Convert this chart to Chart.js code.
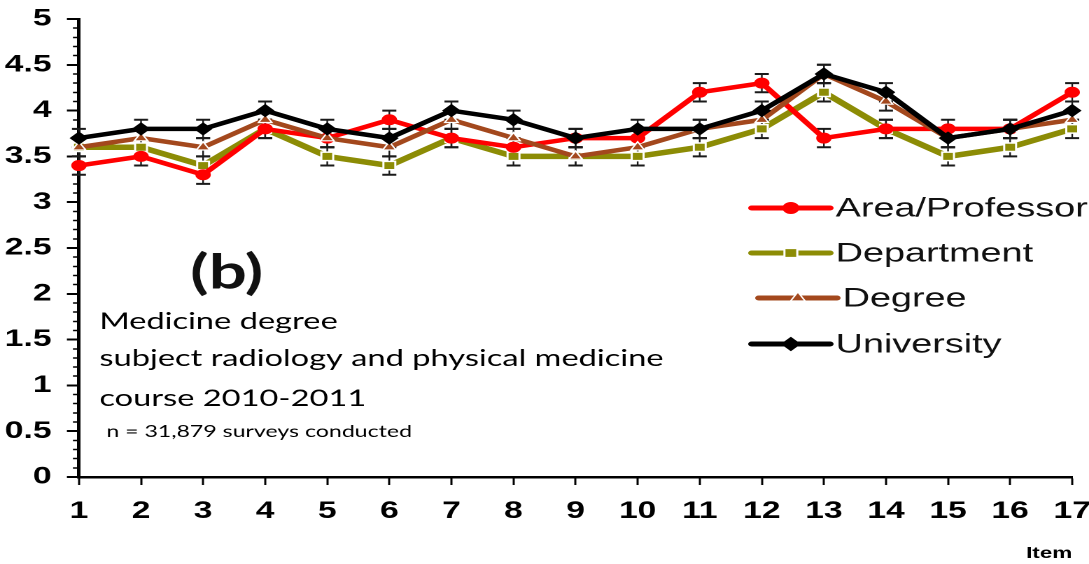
<!DOCTYPE html>
<html>
<head>
<meta charset="utf-8">
<script src="https://cdn.jsdelivr.net/npm/chart.js@4.4.1/dist/chart.umd.min.js"></script>
<style>
html, body { margin: 0; padding: 0; background: #ffffff; overflow: hidden; }
#wrap { position: absolute; left: 0; top: 0; width: 778px; height: 564px; transform: scaleX(1.39974); transform-origin: 0 0; }
</style>
</head>
<body>
<div id="wrap"><canvas id="c"></canvas></div>
<script>
// ---- data ----
const items = ['1','2','3','4','5','6','7','8','9','10','11','12','13','14','15','16','17'];
const areaProfessor = [3.4, 3.5, 3.3, 3.8, 3.7, 3.9, 3.7, 3.6, 3.7, 3.7, 4.2, 4.3, 3.7, 3.8, 3.8, 3.8, 4.2];
const department    = [3.6, 3.6, 3.4, 3.8, 3.5, 3.4, 3.7, 3.5, 3.5, 3.5, 3.6, 3.8, 4.2, 3.8, 3.5, 3.6, 3.8];
const degree        = [3.6, 3.7, 3.6, 3.9, 3.7, 3.6, 3.9, 3.7, 3.5, 3.6, 3.8, 3.9, 4.4, 4.1, 3.7, 3.8, 3.9];
const university    = [3.7, 3.8, 3.8, 4.0, 3.8, 3.7, 4.0, 3.9, 3.7, 3.8, 3.8, 4.0, 4.4, 4.2, 3.7, 3.8, 4.0];
const errorMargin   = [0.1, 0.1, 0.1, 0.1, 0.1, 0.1, 0.1, 0.1, 0.1, 0.1, 0.1, 0.1, 0.1, 0.1, 0.1, 0.1, 0.1];
const seriesNames   = ['Area/Professor', 'Department', 'Degree', 'University'];
const yMin = 0, yMax = 5, yMajorStep = 0.5, yMinorStep = 0.1;
const annotationLines = ['Medicine degree', 'subject radiology and physical medicine', 'course 2010-2011'];
const annotationNote = 'n = 31,879 surveys conducted';
const panelLabel = '(b)';
const xTitle = 'Item';

// ---- styles ----
const COLORS = { area: '#ff0000', dept: '#8c8c05', degree: '#a3481d', univ: '#000000' };
const TICK_FONT = { family: "'Liberation Sans', Arial, sans-serif", size: 24, weight: 'bold' };

const errorBarsPlugin = {
  id: 'errorBars',
  beforeDatasetsDraw(chart) {
    const ctx = chart.ctx;
    const x = chart.scales.x, y = chart.scales.y;
    ctx.save();
    ctx.strokeStyle = '#1a1a1a';
    chart.data.datasets.forEach(ds => {
      ds.data.forEach((v, i) => {
        const px = x.getPixelForValue(i);
        const e = errorMargin[i];
        const pt = y.getPixelForValue(v + e);
        const pb = y.getPixelForValue(v - e);
        ctx.lineWidth = 1.2;
        ctx.beginPath(); ctx.moveTo(px, pt); ctx.lineTo(px, pb); ctx.stroke();
        ctx.lineWidth = 2;
        ctx.beginPath();
        ctx.moveTo(px - 5, pt); ctx.lineTo(px + 5, pt);
        ctx.moveTo(px - 5, pb); ctx.lineTo(px + 5, pb);
        ctx.stroke();
      });
    });
    ctx.restore();
  }
};

function drawMarker(ctx, style, radius, x, y, fill, border, bw) {
  ctx.fillStyle = fill;
  ctx.strokeStyle = border;
  ctx.lineWidth = bw;
  if (Chart.helpers && Chart.helpers.drawPoint) {
    Chart.helpers.drawPoint(ctx, { pointStyle: style, radius: radius, rotation: 0, borderWidth: bw }, x, y);
  } else {
    ctx.beginPath(); ctx.arc(x, y, radius, 0, Math.PI * 2); ctx.fill(); if (bw) ctx.stroke();
  }
}

const overlayPlugin = {
  id: 'overlay',
  afterDraw(chart) {
    const ctx = chart.ctx;
    ctx.save();
    // legend
    const rows = [208, 253, 298, 344];
    const shift = [0, 0, 5, 0];
    chart.data.datasets.forEach((ds, k) => {
      const cy = rows[k];
      const x0 = 537 + shift[k], x1 = 593 + shift[k];
      ctx.strokeStyle = ds.borderColor;
      ctx.lineWidth = 5;
      ctx.lineCap = 'round';
      ctx.beginPath(); ctx.moveTo(x0, cy); ctx.lineTo(x1, cy); ctx.stroke();
      drawMarker(ctx, ds.pointStyle, ds.pointRadius + 0.5, (x0 + x1) / 2, cy, ds.pointBackgroundColor, ds.pointBorderColor, ds.pointBorderWidth);
      ctx.fillStyle = '#111111';
      ctx.font = "27px 'Liberation Sans', Arial, sans-serif";
      ctx.textAlign = 'left';
      ctx.textBaseline = 'middle';
      ctx.fillText(ds.label, x1 + 4, cy + 1);
    });
    // panel label
    ctx.fillStyle = '#111111';
    ctx.font = "bold 48px Lato, 'Open Sans', sans-serif";
    ctx.textAlign = 'center';
    ctx.textBaseline = 'middle';
    ctx.fillText(panelLabel, 162, 273);
    // annotation
    ctx.fillStyle = '#000000';
    ctx.textAlign = 'left';
    ctx.textBaseline = 'alphabetic';
    ctx.font = "23.3px Lato, 'Open Sans', sans-serif";
    const bases = [329, 366, 406];
    annotationLines.forEach((t, i) => ctx.fillText(t, 71, bases[i]));
    ctx.font = "16.5px Lato, 'Open Sans', sans-serif";
    ctx.fillText(annotationNote, 76, 437);
    ctx.restore();
  }
};

function noPad(s) { s.paddingTop = 0; s.paddingBottom = 0; s.paddingLeft = 0; s.paddingRight = 0; }

new Chart(document.getElementById('c'), {
  type: 'line',
  data: {
    labels: items,
    datasets: [
      { label: seriesNames[0], data: areaProfessor, borderColor: COLORS.area, borderWidth: 4.5,
        pointStyle: 'circle', pointRadius: 5, pointBackgroundColor: COLORS.area, pointBorderColor: COLORS.area, pointBorderWidth: 1, order: 2 },
      { label: seriesNames[1], data: department, borderColor: COLORS.dept, borderWidth: 5.5,
        pointStyle: 'rect', pointRadius: 6, pointBackgroundColor: COLORS.dept, pointBorderColor: '#ffffff', pointBorderWidth: 1.5, order: 3 },
      { label: seriesNames[2], data: degree, borderColor: COLORS.degree, borderWidth: 4.5,
        pointStyle: 'triangle', pointRadius: 5.5, pointBackgroundColor: COLORS.degree, pointBorderColor: '#ffffff', pointBorderWidth: 1.2, order: 1 },
      { label: seriesNames[3], data: university, borderColor: COLORS.univ, borderWidth: 4.5,
        pointStyle: 'rectRot', pointRadius: 6, pointBackgroundColor: COLORS.univ, pointBorderColor: COLORS.univ, pointBorderWidth: 1, order: 0 }
    ]
  },
  options: {
    responsive: true,
    maintainAspectRatio: false,
    devicePixelRatio: 2,
    animation: false,
    events: [],
    layout: { padding: { top: 19, right: 12, bottom: 0, left: 0 } },
    plugins: { legend: { display: false }, tooltip: { enabled: false } },
    elements: { line: { tension: 0 } },
    scales: {
      x: {
        type: 'category',
        offset: false,
        grid: { display: true, drawOnChartArea: false, drawTicks: true, tickLength: 8, tickWidth: 1.5, tickColor: '#000' },
        border: { display: true, color: '#000', width: 2.5 },
        ticks: { color: '#000', font: TICK_FONT, padding: 12, maxRotation: 0, autoSkip: false },
        title: { display: true, text: xTitle, align: 'end', color: '#000',
                 font: { family: "'Liberation Sans', Arial, sans-serif", size: 16, weight: 'bold' }, padding: { top: 0, bottom: 1 } },
        afterFit(s) { s.height = 87; noPad(s); }
      },
      y: {
        type: 'linear', position: 'left', weight: 10,
        min: yMin, max: yMax,
        grid: { display: true, drawOnChartArea: false, drawTicks: true, tickLength: 8.6, tickWidth: 2, tickColor: '#000' },
        border: { display: true, color: '#000', width: 2.5 },
        ticks: { stepSize: yMajorStep, color: '#000', font: TICK_FONT, padding: 11, autoSkip: false,
                 callback: v => String(Math.round(v * 10) / 10) },
        afterFit(s) { s.width = 56.4; noPad(s); }
      },
      yMinor: {
        type: 'linear', position: 'left', weight: 0,
        min: yMin, max: yMax,
        grid: { display: true, drawOnChartArea: false, drawTicks: true, tickLength: 4.3, tickWidth: 1.5, tickColor: '#000' },
        border: { display: false },
        ticks: { stepSize: yMinorStep, display: false, autoSkip: false },
        afterFit(s) { s.width = 0; noPad(s); }
      }
    }
  },
  plugins: [errorBarsPlugin, overlayPlugin]
});
</script>
</body>
</html>
